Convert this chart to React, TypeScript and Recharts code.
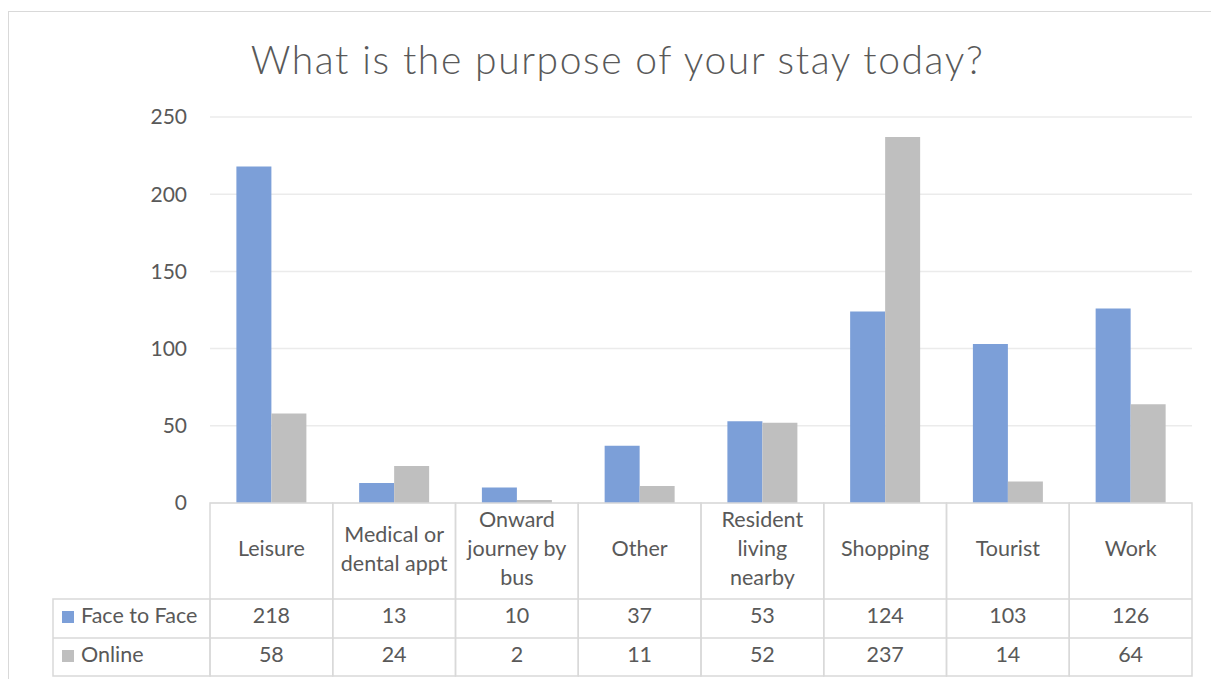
import { BarChart, Bar, XAxis, YAxis, CartesianGrid } from 'recharts'

const categories = [
  'Leisure',
  'Medical or dental appt',
  'Onward journey by bus',
  'Other',
  'Resident living nearby',
  'Shopping',
  'Tourist',
  'Work',
]
// wrapped header text, as in the data table
const categoryLines = [
  ['Leisure'],
  ['Medical or', 'dental appt'],
  ['Onward', 'journey by', 'bus'],
  ['Other'],
  ['Resident', 'living', 'nearby'],
  ['Shopping'],
  ['Tourist'],
  ['Work'],
]
const faceToFace = [218, 13, 10, 37, 53, 124, 103, 126]
const online = [58, 24, 2, 11, 52, 237, 14, 64]
const yTicks = [0, 50, 100, 150, 200, 250]

const series = [
  { key: 'face', name: 'Face to Face', color: '#7c9fd8', values: faceToFace },
  { key: 'online', name: 'Online', color: '#bfbfbf', values: online },
]

const data = categories.map((name, i) => ({
  name,
  face: faceToFace[i],
  online: online[i],
}))

const W = 1207
const H = 672
const MARGIN = { top: 106, right: 23, left: 142, bottom: 0 }
const Y_WIDTH = 60
const PLOT_W = W - MARGIN.left - MARGIN.right - Y_WIDTH
const BAND = PLOT_W / categories.length
const FONT = 'Lato, "Open Sans", sans-serif'
const TEXT = '#595959'
const LINE = '#d9d9d9'

// x-axis tick that draws its own column of the data table
const TableTick = (props: any) => {
  const { x, y, payload } = props
  const i = categories.indexOf(payload.value)
  const left = x - BAND / 2
  const lines = categoryLines[i]
  const lh = 29
  const rows = [112, 151]
  return (
    <g fontFamily={FONT} fontSize={21.5} fill={TEXT}>
      <rect x={left} y={y} width={BAND} height={173} fill="none" stroke={LINE} strokeWidth={1.5} />
      <line x1={left} x2={left + BAND} y1={y + 96} y2={y + 96} stroke={LINE} strokeWidth={1.5} />
      <line x1={left} x2={left + BAND} y1={y + 135} y2={y + 135} stroke={LINE} strokeWidth={1.5} />
      {lines.map((t, k) => (
        <text
          key={k}
          x={x}
          y={y + 45 - ((lines.length - 1) * lh) / 2 + k * lh}
          textAnchor="middle"
          dominantBaseline="central"
        >
          {t}
        </text>
      ))}
      {series.map((s, r) => (
        <text key={s.key} x={x} y={y + rows[r]} textAnchor="middle" dominantBaseline="central">
          {s.values[i]}
        </text>
      ))}
      {i === 0 && (
        <g>
          <rect x={left - 157} y={y + 96} width={157} height={77} fill="none" stroke={LINE} strokeWidth={1.5} />
          <line x1={left - 157} x2={left} y1={y + 135} y2={y + 135} stroke={LINE} strokeWidth={1.5} />
          {series.map((s, r) => (
            <g key={s.key}>
              <rect x={left - 148} y={y + rows[r] - 4} width={12} height={12} fill={s.color} />
              <text x={left - 129} y={y + rows[r]} dominantBaseline="central">
                {s.name}
              </text>
            </g>
          ))}
        </g>
      )}
    </g>
  )
}

export default function App() {
  return (
    <div
      style={{
        position: 'relative',
        marginTop: 3,
        width: W,
        height: H,
        border: '1px solid #d9d9d9',
        boxSizing: 'border-box',
        background: '#fff',
      }}
    >
      <div
        style={{
          position: 'absolute',
          top: 24,
          left: 6,
          width: '100%',
          textAlign: 'center',
          fontFamily: FONT,
          fontWeight: 300,
          fontSize: 39,
          letterSpacing: 1.6,
          color: TEXT,
        }}
      >
        What is the purpose of your stay today?
      </div>
      <div style={{ position: 'absolute', left: -1, top: -1 }}>
        <BarChart
          width={W}
          height={H}
          data={data}
          margin={MARGIN}
          barCategoryGap="21.5%"
          barGap={0}
        >
          <CartesianGrid vertical={false} stroke="#ebebeb" strokeWidth={1.5} />
          <XAxis
            dataKey="name"
            interval={0}
            height={180}
            axisLine={false}
            tickLine={false}
            tickSize={0}
            tickMargin={0}
            tick={<TableTick />}
          />
          <YAxis
            width={Y_WIDTH}
            domain={[0, 250]}
            ticks={yTicks}
            axisLine={false}
            tickLine={false}
            tickSize={0}
            tickMargin={23}
            tick={{ fill: TEXT, fontSize: 21, fontFamily: FONT }}
          />
          {series.map((s) => (
            <Bar key={s.key} dataKey={s.key} name={s.name} fill={s.color} isAnimationActive={false} />
          ))}
        </BarChart>
      </div>
    </div>
  )
}
